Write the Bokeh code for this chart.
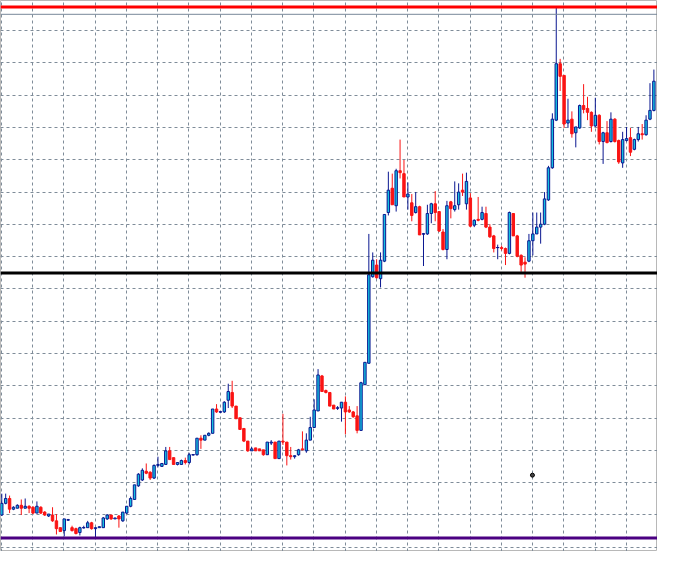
from bokeh.plotting import figure
from bokeh.models import ColumnDataSource, Span, FixedTicker, Range1d
from bokeh.embed import file_html
from bokeh.resources import INLINE

# OHLC values (arbitrary price units)
opens = [38, 50, 55, 44, 45, 48, 45, 47, 46, 40, 46, 41, 37, 38, 32, 25, 22, 33, 25, 24,
         20, 25, 25, 30, 24, 25, 25, 34, 38, 34, 37, 32, 40, 47, 54, 68, 74, 83, 82, 76,
         89, 88, 90, 104, 97, 90, 90, 94, 92, 100, 100, 117, 115, 120, 122, 147, 144, 144, 156, 164,
         150, 138, 127, 114, 104, 107, 106, 105, 100, 112, 113, 96, 114, 113, 99, 98, 100, 106, 104, 115,
         128, 145, 181, 166, 164, 151, 148, 148, 154, 146, 144, 140, 125, 172, 194, 283, 295, 281, 299, 349,
         374, 356, 392, 389, 365, 359, 349, 355, 327, 327, 348, 358, 350, 329, 311, 360, 352, 357, 372, 358,
         364, 336, 342, 342, 348, 334, 325, 313, 313, 312, 307, 348, 325, 305, 298, 299, 320, 327, 334, 337,
         362, 395, 444, 502, 490, 441, 445, 431, 436, 459, 456, 452, 438, 449, 422, 431, 422, 445, 423, 400,
         423, 426, 414, 424, 430, 429, 445, 454]
highs = [60, 60, 58, 47, 49, 54, 55, 48, 47, 52, 47, 42, 39, 46, 39, 25, 34, 34, 27, 25,
         26, 27, 32, 31, 25, 26, 36, 39, 38, 35, 38, 41, 47, 57, 69, 81, 86, 91, 83, 90,
         98, 91, 108, 108, 97, 92, 95, 97, 102, 100, 117, 120, 120, 123, 147, 152, 145, 155, 173, 176,
         150, 138, 127, 114, 108, 107, 106, 105, 113, 115, 113, 114, 142, 113, 108, 99, 106, 124, 122, 139,
         157, 188, 182, 167, 164, 151, 150, 154, 160, 150, 145, 150, 175, 195, 327, 308, 301, 308, 347, 391,
         389, 394, 424, 403, 380, 368, 370, 356, 328, 357, 359, 371, 350, 332, 361, 361, 381, 379, 389, 390,
         369, 342, 365, 355, 355, 337, 326, 316, 315, 313, 350, 348, 326, 306, 303, 327, 349, 349, 349, 370,
         397, 451, 560, 507, 490, 466, 453, 437, 460, 481, 468, 453, 467, 450, 432, 443, 452, 446, 424, 432,
         437, 436, 425, 437, 440, 449, 482, 496]
lows = [37, 49, 40, 43, 45, 38, 45, 40, 39, 40, 39, 37, 36, 31, 18, 21, 16, 32, 21, 18,
        17, 24, 25, 23, 15, 25, 25, 33, 33, 34, 25, 31, 39, 46, 54, 67, 73, 80, 74, 75,
        87, 88, 90, 95, 90, 89, 90, 90, 90, 99, 99, 106, 115, 119, 122, 143, 143, 143, 148, 148,
        137, 126, 113, 103, 104, 104, 104, 99, 100, 110, 96, 96, 110, 89, 95, 96, 99, 105, 102, 115,
        128, 145, 165, 163, 150, 147, 146, 134, 121, 143, 138, 122, 125, 172, 194, 282, 281, 272, 298, 346,
        357, 350, 384, 365, 352, 340, 348, 326, 294, 326, 338, 340, 329, 310, 301, 343, 350, 352, 366, 352,
        334, 334, 340, 341, 333, 323, 308, 301, 310, 295, 306, 325, 303, 288, 282, 298, 305, 327, 317, 336,
        361, 394, 443, 474, 436, 436, 426, 416, 435, 451, 444, 432, 437, 419, 399, 420, 421, 421, 399, 395,
        422, 407, 413, 422, 424, 428, 444, 453]
closes = [50, 55, 44, 46, 48, 45, 47, 45, 40, 47, 40, 38, 39, 32, 24, 21, 34, 33, 22, 19,
          25, 25, 30, 24, 25, 26, 35, 38, 34, 35, 34, 41, 47, 55, 69, 80, 84, 81, 76, 89,
          90, 91, 104, 95, 90, 92, 94, 92, 100, 100, 117, 115, 120, 122, 147, 144, 144, 154, 165, 150,
          137, 126, 114, 104, 106, 104, 104, 100, 113, 113, 96, 114, 113, 99, 98, 99, 105, 105, 115, 128,
          146, 182, 165, 164, 150, 147, 148, 154, 144, 144, 139, 125, 174, 195, 285, 300, 282, 300, 347, 372,
          357, 392, 390, 365, 368, 346, 355, 326, 327, 348, 358, 349, 330, 311, 356, 353, 356, 370, 370, 381,
          335, 341, 341, 349, 334, 324, 312, 313, 312, 307, 349, 325, 304, 295, 296, 320, 327, 334, 337, 363,
          395, 445, 502, 489, 440, 444, 430, 437, 459, 455, 452, 438, 449, 422, 431, 421, 445, 422, 401, 424,
          425, 411, 424, 430, 429, 444, 454, 484]

# horizontal level lines
resistance_level = 560.3
ask_level = 552.8
pivot_level = 286.8
support_level = 14.3

# grid
grid_price_levels = [536.0 - 33.19 * j for j in range(17)]
grid_bar_positions = [8 * m - 0.075 for m in range(22)]

# chart object (small dot marker)
marker_bar = [135.9]
marker_price = [79]

BULL_FILL = "#14c0e0"
BULL_LINE = "#0a1790"
BEAR = "#fa1414"

n = len(opens)
idx = list(range(n))
bull = [c >= o for o, c in zip(opens, closes)]

def sub(mask):
    d = dict(x=[], o=[], h=[], l=[], c=[], top=[], bot=[])
    for i in range(n):
        if mask[i]:
            d["x"].append(idx[i]); d["o"].append(opens[i]); d["h"].append(highs[i])
            d["l"].append(lows[i]); d["c"].append(closes[i])
            d["top"].append(max(opens[i], closes[i])); d["bot"].append(min(opens[i], closes[i]))
    return ColumnDataSource(d)

src_bull = sub(bull)
src_bear = sub([not b for b in bull])

p = figure(width=657, height=551, output_backend="svg", toolbar_location=None,
           x_range=Range1d(-0.325, 167.925), y_range=Range1d(0.5, 567),
           min_border=0, background_fill_color="white", border_fill_color="white")
p.xaxis.visible = False
p.yaxis.visible = False
p.outline_line_color = "#b8b8b8"
p.outline_line_width = 1

p.xgrid.ticker = FixedTicker(ticks=grid_bar_positions)
p.ygrid.ticker = FixedTicker(ticks=grid_price_levels)
for g in (p.xgrid, p.ygrid):
    g.grid_line_color = "#7f8c99"
    g.grid_line_dash = "3 3"
    g.grid_line_width = 1

# wicks
p.segment(x0="x", x1="x", y0="l", y1="h", source=src_bull, line_color=BULL_LINE, line_width=1)
p.segment(x0="x", x1="x", y0="l", y1="h", source=src_bear, line_color=BEAR, line_width=1)
# bodies
p.vbar(x="x", top="top", bottom="bot", width=0.62, source=src_bull,
       fill_color=BULL_FILL, line_color=BULL_LINE, line_width=1)
p.vbar(x="x", top="top", bottom="bot", width=0.62, source=src_bear,
       fill_color=BEAR, line_color=BEAR, line_width=1)
# doji ticks
dj = [i for i in range(n) if opens[i] == closes[i]]
p.segment(x0=[idx[i] - 0.4 for i in dj], x1=[idx[i] + 0.4 for i in dj],
          y0=[opens[i] for i in dj], y1=[opens[i] for i in dj],
          line_color=[BULL_LINE if bull[i] else BEAR for i in dj], line_width=1)

p.scatter(marker_bar, marker_price, size=4, fill_color="#444444", line_color="black")

p.add_layout(Span(location=resistance_level, dimension="width", line_color="#ff0000", line_width=3))
p.add_layout(Span(location=ask_level, dimension="width", line_color="#778899", line_width=1))
p.add_layout(Span(location=pivot_level, dimension="width", line_color="#000000", line_width=3))
p.add_layout(Span(location=support_level, dimension="width", line_color="#4b0082", line_width=3))

open("out.html", "w").write(file_html(p, INLINE))
